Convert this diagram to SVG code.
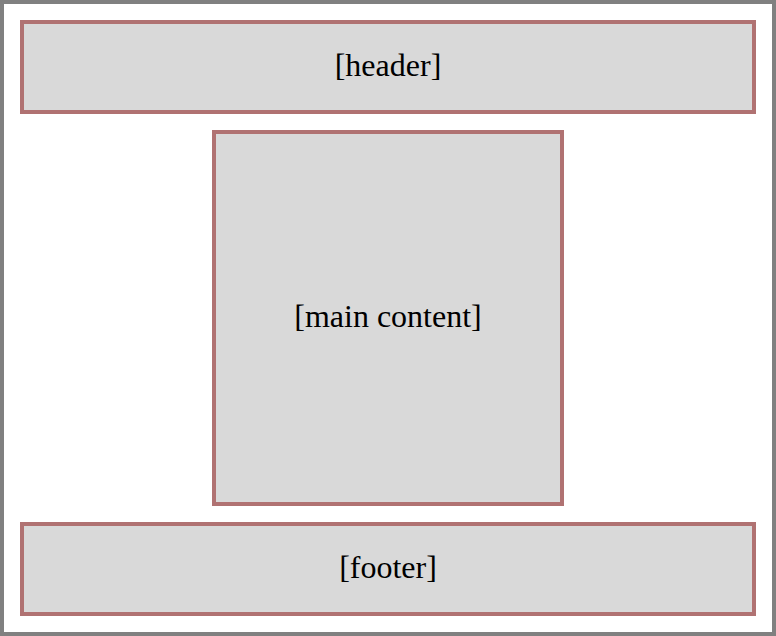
<svg xmlns="http://www.w3.org/2000/svg" width="776" height="636" viewBox="0 0 776 636">
<style>
.box{fill:#d9d9d9;stroke:#b07272;stroke-width:4}
.lbl{font-family:"Liberation Serif",serif;font-size:32px;fill:#000;text-anchor:middle}
</style>
<rect x="2" y="2" width="772" height="632" fill="#fff" stroke="#808080" stroke-width="4"/>
<g id="header"><rect class="box" x="22" y="22" width="732" height="90"/><text class="lbl" x="388" y="76">[header]</text></g>
<g id="main"><rect class="box" x="214" y="132" width="348" height="372"/><text class="lbl" x="388" y="327">[main content]</text></g>
<g id="footer"><rect class="box" x="22" y="524" width="732" height="90"/><text class="lbl" x="388" y="578">[footer]</text></g>
<g id="connectors"/>
</svg>
